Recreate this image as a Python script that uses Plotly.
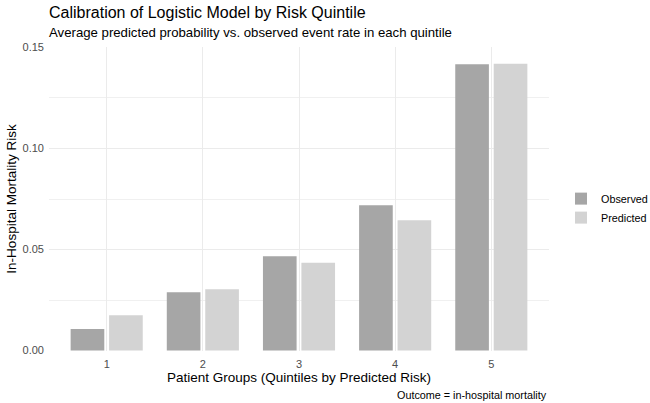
import plotly.graph_objects as go

quintiles = [1, 2, 3, 4, 5]
observed = [0.0107, 0.0289, 0.0467, 0.0719, 0.1417]
predicted = [0.0175, 0.0304, 0.0435, 0.0645, 0.1419]
series_names = ["Observed", "Predicted"]
colors = ["#a6a6a6", "#d3d3d3"]

FONT = "Liberation Sans, Arial, sans-serif"

fig = go.Figure()
fig.add_trace(go.Bar(x=quintiles, y=observed, name=series_names[0],
                     marker=dict(color=colors[0], line=dict(width=0)),
                     width=0.35, offset=-0.375))
fig.add_trace(go.Bar(x=quintiles, y=predicted, name=series_names[1],
                     marker=dict(color=colors[1], line=dict(width=0)),
                     width=0.35, offset=0.025))

fig.update_layout(
    width=650, height=403,
    margin=dict(l=49, r=101, t=47, b=52, autoexpand=False),
    paper_bgcolor="white", plot_bgcolor="white",
    font=dict(family=FONT, color="#000000"),
    barmode="group",
    title=dict(text="Calibration of Logistic Model by Risk Quintile",
               x=49/650, xanchor="left", xref="container",
               y=1-11.9/403, yanchor="middle", yref="container",
               font=dict(size=16, color="#000000", family=FONT)),
    legend=dict(x=1.024, y=0.47, xanchor="left", yanchor="middle",
                font=dict(size=10.8, color="#000000"),
                bgcolor="rgba(0,0,0,0)", traceorder="normal"),
    annotations=[
        dict(text="Average predicted probability vs. observed event rate in each quintile",
             xref="paper", yref="paper", x=-2/500, y=1+14.6/304,
             xanchor="left", yanchor="middle", showarrow=False,
             font=dict(size=13.2, color="#000000")),
        dict(text="Outcome = in-hospital mortality",
             xref="paper", yref="paper", x=1, y=-(395-351)/304,
             xanchor="right", yanchor="middle", showarrow=False,
             font=dict(size=10.8, color="#000000")),
    ],
)

fig.update_xaxes(
    range=[0.4, 5.6], tickmode="array", tickvals=quintiles,
    ticktext=[str(q) for q in quintiles],
    showgrid=True, gridcolor="#ebebeb", gridwidth=1.1,
    zeroline=False, showline=False, ticks="",
    ticklabelstandoff=5,
    tickfont=dict(size=11, color="#4d4d4d"),
    title=dict(text="Patient Groups (Quintiles by Predicted Risk)",
               font=dict(size=13.5, color="#000000"), standoff=1.5),
)
fig.update_yaxes(
    range=[-0.0002, 0.1502], tickmode="array",
    tickvals=[0, 0.05, 0.10, 0.15], ticktext=["0.00", "0.05", "0.10", "0.15"],
    showgrid=True, gridcolor="#ebebeb", gridwidth=1.1,
    minor=dict(tickvals=[0.025, 0.075, 0.125], showgrid=True,
               gridcolor="#f0f0f0", gridwidth=0.6),
    zeroline=False, showline=False, ticks="",
    ticklabelstandoff=4,
    tickfont=dict(size=11, color="#4d4d4d"),
    title=dict(text="In-Hospital Mortality Risk",
               font=dict(size=13.5, color="#000000"), standoff=2),
)

fig.write_html("out.html")
